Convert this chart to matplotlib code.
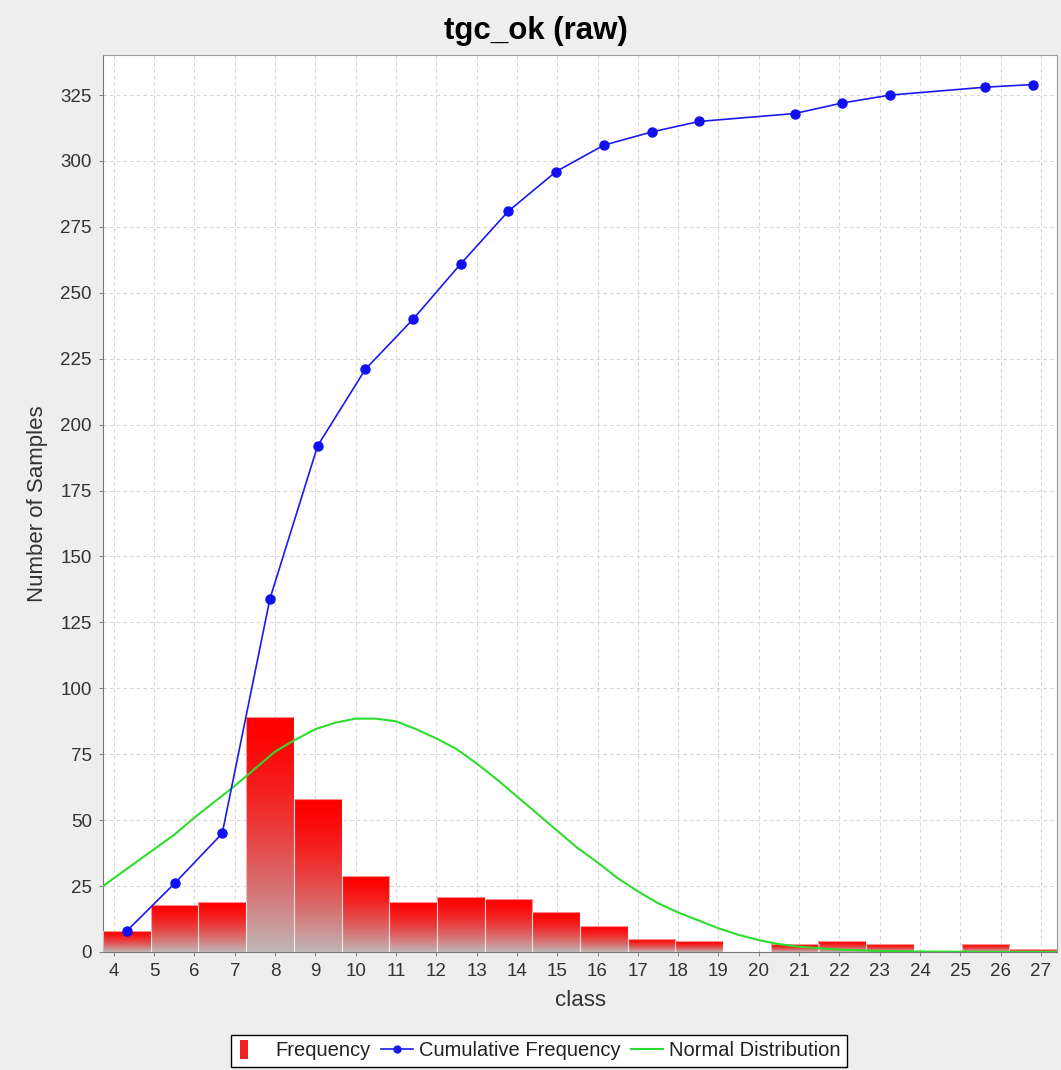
import numpy as np
import matplotlib
matplotlib.use("Agg")
import matplotlib.pyplot as plt
from matplotlib.patches import Rectangle, Patch
from matplotlib.lines import Line2D
from matplotlib.legend_handler import HandlerPatch

plt.rcParams['font.family'] = ['Liberation Sans', 'DejaVu Sans']

# ---------------- data ----------------
title = "tgc_ok (raw)"
x_label = "class"
y_label = "Number of Samples"
bin_start = 3.73
bin_width = 1.1835
frequency = [8, 18, 19, 89, 58, 29, 19, 21, 20, 15, 10, 5, 4, 0, 3, 4, 3, 0, 3, 1]
cumulative = [8, 26, 45, 134, 192, 221, 240, 261, 281, 296, 306, 311, 315, 315,
              318, 322, 325, 325, 328, 329]
normal_x = [3.73, 4.0, 4.5, 5.0, 5.5, 6.0, 6.5, 7.0, 7.5, 8.0, 8.5, 9.0, 9.5, 10.0,
            10.5, 11.0, 11.5, 12.0, 12.5, 13.0, 13.5, 14.0, 14.5, 15.0, 15.5, 16.0,
            16.5, 17.0, 17.5, 18.0, 18.5, 19.0, 19.5, 20.0, 20.5, 21.0, 21.5, 22.0,
            23.0, 24.0, 25.0, 26.0, 27.0, 27.4]
normal_y = [25, 28, 33.5, 39, 44.5, 51, 57, 63, 69.5, 76, 80.5, 84.5, 87, 88.5,
            88.5, 87.5, 84.5, 81, 77, 71.5, 65.5, 59, 52.5, 46, 39.5, 34,
            28, 23, 18.5, 15, 12, 9, 6.5, 4.5, 3, 2, 1.4, 0.9,
            0.4, 0.2, 0.1, 0.05, 0.02, 0.01]
x_ticks = list(range(4, 28))
y_ticks = list(range(0, 326, 25))
legend_labels = ["Frequency", "Cumulative Frequency", "Normal Distribution"]

# ---------------- figure ----------------
W, H = 1061, 1070
fig = plt.figure(figsize=(W / 100, H / 100), dpi=100, facecolor='#eeeeee')
ax = fig.add_axes([103 / W, 1 - 952 / H, (1057 - 103) / W, (952 - 55) / H])
ax.set_facecolor('white')

n_bins = len(frequency)
edges = bin_start + bin_width * np.arange(n_bins + 1)
centers = (edges[:-1] + edges[1:]) / 2

# gradient bars
bars = ax.bar(centers, frequency, width=bin_width, color='none',
              edgecolor=(1, 1, 1, 0.55), linewidth=0.8, zorder=3)
top = np.array([1.0, 0.0, 0.0])
bottom = np.array([0.75, 0.72, 0.72])
t = np.linspace(0, 1, 256) ** 1.5
grad = (top[None, :] * (1 - t[:, None]) + bottom[None, :] * t[:, None])[:, None, :]
for b, h in zip(bars, frequency):
    if h <= 0:
        continue
    x0 = b.get_x()
    im = ax.imshow(grad, extent=[x0, x0 + b.get_width(), 0, h], aspect='auto',
                   origin='upper', zorder=2, interpolation='bilinear')
    im.set_clip_path(b)

# normal distribution
ax.plot(normal_x, normal_y, color='#2ddc2d', linewidth=1.5, zorder=4)

# cumulative (only where bin non-empty)
cx = [c for c, f in zip(centers, frequency) if f > 0]
cy = [v for v, f in zip(cumulative, frequency) if f > 0]
ax.plot(cx, cy, color='#1a1aee', linewidth=1.2, marker='o', markersize=6.5,
        markerfacecolor='#1010f0', markeredgecolor='#1010f0', zorder=5)

ax.set_xlim(edges[0], edges[-1])
ax.set_ylim(0, 340.2)
ax.set_xticks(x_ticks)
ax.set_yticks(y_ticks)
ax.tick_params(axis='both', labelsize=13.5, labelcolor='#333333', color='#888888',
               length=3, width=0.8, pad=5)
ax.grid(True, color='#d4d4d4', linestyle=(0, (3, 3)), linewidth=0.8, zorder=0)
ax.set_axisbelow(True)
for s in ax.spines.values():
    s.set_color('#999999')
    s.set_linewidth(0.8)
ax.spines['left'].set_color('#777777')
ax.spines['bottom'].set_color('#777777')

ax.set_xlabel(x_label, fontsize=16, color='#333333')
ax.xaxis.set_label_coords(0.5, -(1000 - 952) / 897)
ax.xaxis.label.set_va('center')
ax.set_ylabel(y_label, fontsize=16, color='#333333')
ax.yaxis.set_label_coords(-(103 - 38) / 954, 0.5)
ax.yaxis.label.set_va('center')

fig.text(536 / W, 1 - 31 / H, title, ha='center', va='center', fontsize=22.5,
         fontweight='bold', color='black')


class NarrowBar(HandlerPatch):
    def create_artists(self, legend, orig_handle, xdescent, ydescent, width,
                       height, fontsize, trans):
        w = 6
        r = Rectangle((-xdescent + 2, -ydescent - 2), w, height + 4,
                      facecolor='#ee2222', edgecolor='none', transform=trans)
        return [r]


handles = [Patch(facecolor='#ee2222'),
           Line2D([], [], color='#1a1aee', marker='o', markersize=5, linewidth=1.2),
           Line2D([], [], color='#2ddc2d', linewidth=1.5)]
leg = fig.legend(handles, legend_labels, loc='center', ncol=3,
                 bbox_to_anchor=(539 / W, 1 - 1051 / H), fontsize=14.5,
                 frameon=True, fancybox=False, edgecolor='black', facecolor='white',
                 framealpha=1, handlelength=1.6, handletextpad=0.3,
                 columnspacing=0.5, borderpad=0.3, borderaxespad=0,
                 handler_map={Patch: NarrowBar()})
leg.get_frame().set_linewidth(1.0)
for txt in leg.get_texts():
    txt.set_color('#222222')

fig.savefig('out.png', dpi=100, facecolor=fig.get_facecolor())
